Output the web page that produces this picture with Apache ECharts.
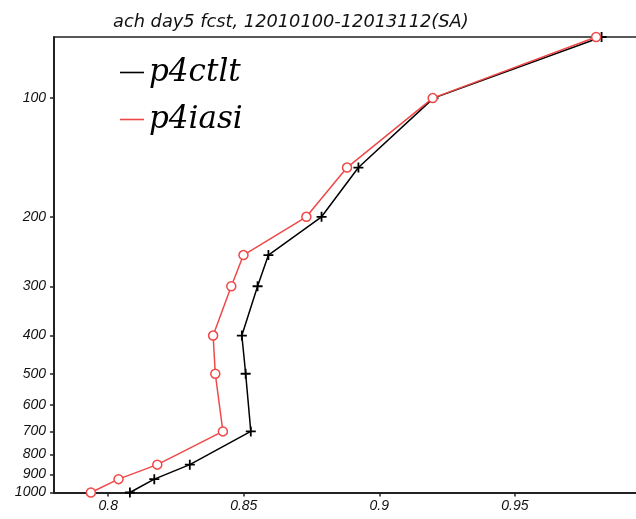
<!DOCTYPE html>
<html>
<head>
<meta charset="utf-8">
<script src="https://cdn.jsdelivr.net/npm/echarts@6/dist/echarts.min.js"></script>
<style>html,body{margin:0;padding:0;background:#fff}#c{width:636px;height:519px}</style>
</head>
<body>
<div id="c"></div>
<script>
const levels = [70, 100, 150, 200, 250, 300, 400, 500, 700, 850, 925, 1000];
const p4ctlt = [0.982, 0.920, 0.8923, 0.8787, 0.8591, 0.8551, 0.8493, 0.8507, 0.8526, 0.8301, 0.8170, 0.8080];
const p4iasi = [0.980, 0.9197, 0.8881, 0.8731, 0.8499, 0.8454, 0.8387, 0.8395, 0.8423, 0.8181, 0.8038, 0.7936];
const yTicks = [100, 200, 300, 400, 500, 600, 700, 800, 900, 1000];
const xTicks = [0.8, 0.85, 0.9, 0.95];

const chart = echarts.init(document.getElementById('c'), null, {renderer: 'canvas'});
const plus = 'path://M4.1,0H5.9V4.1H10V5.9H5.9V10H4.1V5.9H0V4.1H4.1Z';
const axisFont = {fontFamily: 'Liberation Sans', fontStyle: 'italic', fontSize: 14, color: '#111'};
const black = '#000', red = '#f04848';
chart.setOption({
  animation: false,
  title: {
    text: 'ach day5 fcst, 12010100-12013112(SA)',
    left: 108, top: 8,
    textStyle: {fontFamily: 'DejaVu Sans', fontStyle: 'italic', fontWeight: 'normal', fontSize: 17.8, color: '#111'}
  },
  legend: {
    orient: 'vertical', left: 120, top: 57, padding: 0,
    itemWidth: 24, itemHeight: 1.6, itemGap: 16,
    icon: 'rect',
    itemStyle: {borderWidth: 0},
    textStyle: {fontFamily: 'DejaVu Serif', fontStyle: 'italic', fontSize: 31, color: '#000'},
    data: [
      {name: 'p4ctlt', itemStyle: {color: black, borderWidth: 0}},
      {name: 'p4iasi', itemStyle: {color: red, borderWidth: 0}}
    ]
  },
  grid: {left: 54, top: 37, bottom: 26.5, right: 0, show: false},
  xAxis: [{
    type: 'value', min: 0.78, max: 0.9947,
    splitLine: {show: false},
    axisLine: {show: true, lineStyle: {color: '#222', width: 2}},
    axisTick: {show: true, length: 4, lineStyle: {color: '#222', width: 1.5}, customValues: xTicks},
    axisLabel: Object.assign({margin: 7, customValues: xTicks, formatter: v => String(+v.toFixed(2))}, axisFont)
  }, {
    type: 'value', position: 'top', min: 0.78, max: 0.9947,
    splitLine: {show: false},
    axisLine: {show: true, lineStyle: {color: '#222', width: 1.5}},
    axisTick: {show: false}, axisLabel: {show: false}
  }],
  yAxis: {
    type: 'log', logBase: 10, min: 70, max: 1000, inverse: true,
    splitLine: {show: false},
    minorTick: {show: false},
    axisLine: {show: true, onZero: false, lineStyle: {color: '#222', width: 2}},
    axisTick: {show: true, length: 4, lineStyle: {color: '#222', width: 1.5}, customValues: yTicks},
    axisLabel: Object.assign({margin: 8, customValues: yTicks, formatter: v => String(Math.round(v))}, axisFont)
  },
  series: [
    {
      name: 'p4ctlt', type: 'line',
      data: p4ctlt.map((v, i) => [v, levels[i]]),
      symbol: plus, symbolSize: 10,
      lineStyle: {color: black, width: 1.5},
      itemStyle: {color: black},
      clip: true
    },
    {
      name: 'p4iasi', type: 'line',
      data: p4iasi.map((v, i) => [v, levels[i]]),
      symbol: 'circle', symbolSize: 9,
      lineStyle: {color: red, width: 1.5},
      itemStyle: {color: '#fff', borderColor: red, borderWidth: 1.5},
      clip: true
    }
  ]
});
</script>
</body>
</html>
